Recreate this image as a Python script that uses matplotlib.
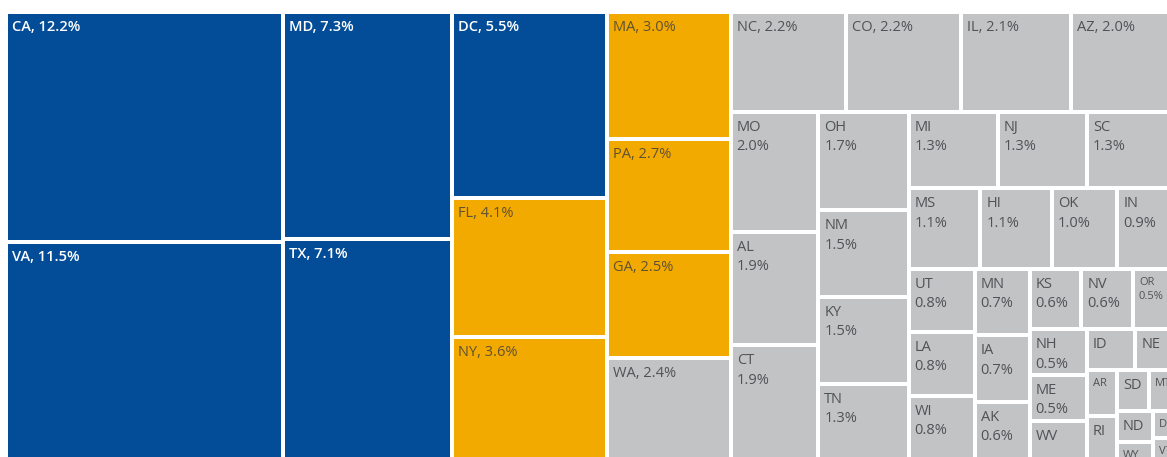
import matplotlib.pyplot as plt
from matplotlib.patches import Rectangle

# share of total, percent (small unlabeled states)
states = ['CA', 'VA', 'MD', 'TX', 'DC', 'FL', 'NY', 'MA', 'PA', 'GA',
          'WA', 'NC', 'CO', 'IL', 'AZ', 'MO', 'AL', 'CT', 'OH', 'NM',
          'KY', 'TN', 'MI', 'NJ', 'SC', 'MS', 'HI', 'OK', 'IN', 'UT',
          'LA', 'WI', 'MN', 'IA', 'AK', 'KS', 'NV', 'OR', 'NH', 'ME',
          'WV', 'ID', 'NE', 'AR', 'RI', 'SD', 'MT', 'ND', 'WY', 'DE', 'VT']
shares = [12.2, 11.5, 7.3, 7.1, 5.5, 4.1, 3.6, 3.0, 2.7, 2.5,
          2.4, 2.2, 2.2, 2.1, 2.0, 2.0, 1.9, 1.9, 1.7, 1.5,
          1.5, 1.3, 1.3, 1.3, 1.3, 1.1, 1.1, 1.0, 0.9, 0.8,
          0.8, 0.8, 0.7, 0.7, 0.6, 0.6, 0.6, 0.5, 0.5, 0.5,
          0.42, 0.38, 0.32, 0.26, 0.25, 0.25, 0.21, 0.21, 0.12, 0.12, 0.09]
top_group = ['CA', 'VA', 'MD', 'TX', 'DC']
mid_group = ['FL', 'NY', 'MA', 'PA', 'GA']

BLUE = '#034c97'
ORANGE = '#f2a900'
GRAY = '#c1c3c4'
small_font = {'OR', 'AR', 'MT', 'DE', 'WY', 'VT'}


def worst(row, side):
    s = sum(row)
    return max(side * side * max(row) / (s * s), s * s / (side * side * min(row)))


def squarify(areas, x, y, dx, dy):
    # Bruls et al. squarified treemap, values already sorted big -> small
    rects = []
    i = 0
    n = len(areas)
    while i < n:
        side = min(dx, dy)
        row = [areas[i]]
        j = i + 1
        while j < n and worst(row + [areas[j]], side) <= worst(row, side):
            row.append(areas[j])
            j += 1
        s = sum(row)
        if dx >= dy:
            w = s / dy
            yy = y
            for a in row:
                rects.append((x, yy, w, a / w))
                yy += a / w
            x += w
            dx -= w
        else:
            h = s / dx
            xx = x
            for a in row:
                rects.append((xx, y, a / h, h))
                xx += a / h
            y += h
            dy -= h
        i = j
    return rects


fig = plt.figure(figsize=(11.67, 4.57), dpi=100)
ax = fig.add_axes([0, 0, 1, 1])
ax.set_xlim(0, 1167)
ax.set_ylim(457, 0)
ax.axis('off')

# the reference is a crop: the treemap runs past the right and bottom edges
X0, Y0, W, H = 6, 12, 1170, 447
total = sum(shares)
areas = [v * W * H / total for v in shares]
rects = squarify(areas, X0, Y0, W, H)

pad = 2
for st, v, (x, y, w, h) in zip(states, shares, rects):
    if st in top_group:
        fc, tc, fw = BLUE, 'white', 'semibold'
    elif st in mid_group:
        fc, tc, fw = ORANGE, '#5f5233', 'normal'
    else:
        fc, tc, fw = GRAY, '#505355', 'normal'
    ax.add_patch(Rectangle((x + pad, y + pad), w - 2 * pad, h - 2 * pad,
                           facecolor=fc, edgecolor='none'))
    if w >= 95:
        label = '{}, {:.1f}%'.format(st, v)
    elif v >= 0.5:
        label = '{}\n{:.1f}%'.format(st, v)
    else:
        label = st
    fs = 8 if st in small_font else 10.5
    ax.text(x + pad + 4, y + pad + 6, label, color=tc, fontsize=fs,
            fontweight=fw, family='Open Sans', va='top', ha='left',
            linespacing=1.4)

fig.savefig('out.png', dpi=100)
